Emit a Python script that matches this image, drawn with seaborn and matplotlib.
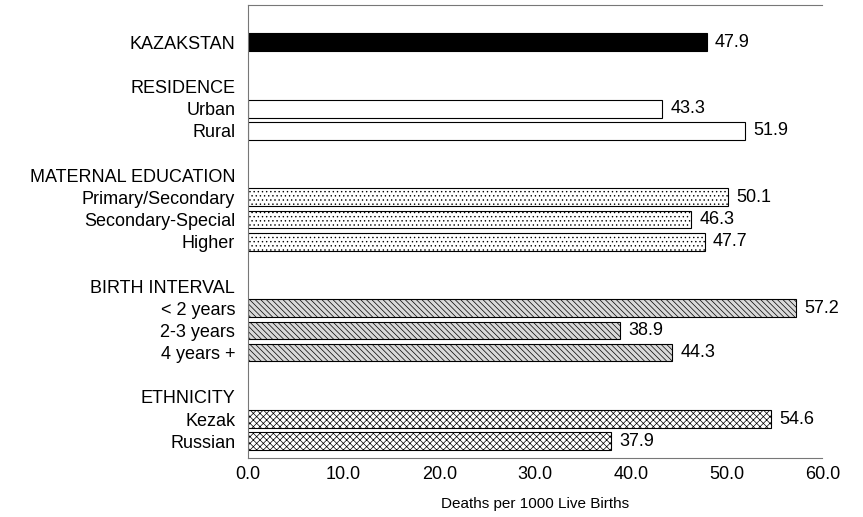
import pandas as pd
import numpy as np
import matplotlib.pyplot as plt
import seaborn as sns

# row labels from top to bottom (headers and blank spacers have no bar)
row_labels = [
    'KAZAKSTAN', ' ',
    'RESIDENCE', 'Urban', 'Rural', '  ',
    'MATERNAL EDUCATION', 'Primary/Secondary', 'Secondary-Special', 'Higher', '   ',
    'BIRTH INTERVAL', '< 2 years', '2-3 years', '4 years +', '    ',
    'ETHNICITY', 'Kezak', 'Russian',
]

bar_labels = ['KAZAKSTAN', 'Urban', 'Rural',
              'Primary/Secondary', 'Secondary-Special', 'Higher',
              '< 2 years', '2-3 years', '4 years +',
              'Kezak', 'Russian']
bar_groups = ['total', 'residence', 'residence',
              'education', 'education', 'education',
              'interval', 'interval', 'interval',
              'ethnicity', 'ethnicity']
rates = [47.9, 43.3, 51.9, 50.1, 46.3, 47.7, 57.2, 38.9, 44.3, 54.6, 37.9]

x_ticks = [0, 10, 20, 30, 40, 50, 60]

df = pd.DataFrame({'label': bar_labels, 'group': bar_groups, 'rate': rates})

group_order = ['total', 'residence', 'education', 'interval', 'ethnicity']
face = {'total': 'black', 'residence': 'white', 'education': 'white',
        'interval': '#d9d9d9', 'ethnicity': 'white'}
hatches = {'total': None, 'residence': None, 'education': '....',
           'interval': '\\\\\\\\\\\\', 'ethnicity': 'xxxxx'}

sns.set_theme(style="white")
plt.rcParams['font.family'] = ['Liberation Sans', 'DejaVu Sans']
plt.rcParams['hatch.linewidth'] = 0.5
plt.rcParams['text.color'] = 'black'
plt.rcParams['xtick.color'] = 'black'
plt.rcParams['ytick.color'] = 'black'
plt.rcParams['axes.labelcolor'] = 'black'

fig = plt.figure(figsize=(8.63, 5.17), dpi=100)
ax = fig.add_axes([0.287, 0.114, 0.666, 0.876])

sns.barplot(data=df, x='rate', y='label', hue='group', order=row_labels,
            hue_order=group_order, palette=face, dodge=False, legend=False,
            width=0.8, edgecolor='black', linewidth=0.8, ax=ax)

for grp, cont in zip(group_order, ax.containers):
    for bar in cont:
        if hatches[grp]:
            bar.set_hatch(hatches[grp])
    vals = [b.get_width() for b in cont]
    ax.bar_label(cont, labels=[f'{v:.1f}' if not np.isnan(v) else '' for v in vals],
                 padding=6, fontsize=13)

ax.set_xlim(0, 60)
ax.set_xticks(x_ticks)
ax.set_xticklabels([f'{t:.1f}' for t in x_ticks], fontsize=13)
ax.set_ylim(18.76, -1.67)
ax.tick_params(axis='y', labelsize=13, length=0, pad=9)
ax.tick_params(axis='x', length=0, pad=6)
ax.set_ylabel('')
ax.set_xlabel('Deaths per 1000 Live Births', fontsize=11, labelpad=10)

for side in ['left', 'top', 'bottom']:
    ax.spines[side].set_color('#777777')
    ax.spines[side].set_linewidth(0.8)
ax.spines['right'].set_visible(False)

plt.savefig('out.png', dpi=100)
plt.close()
